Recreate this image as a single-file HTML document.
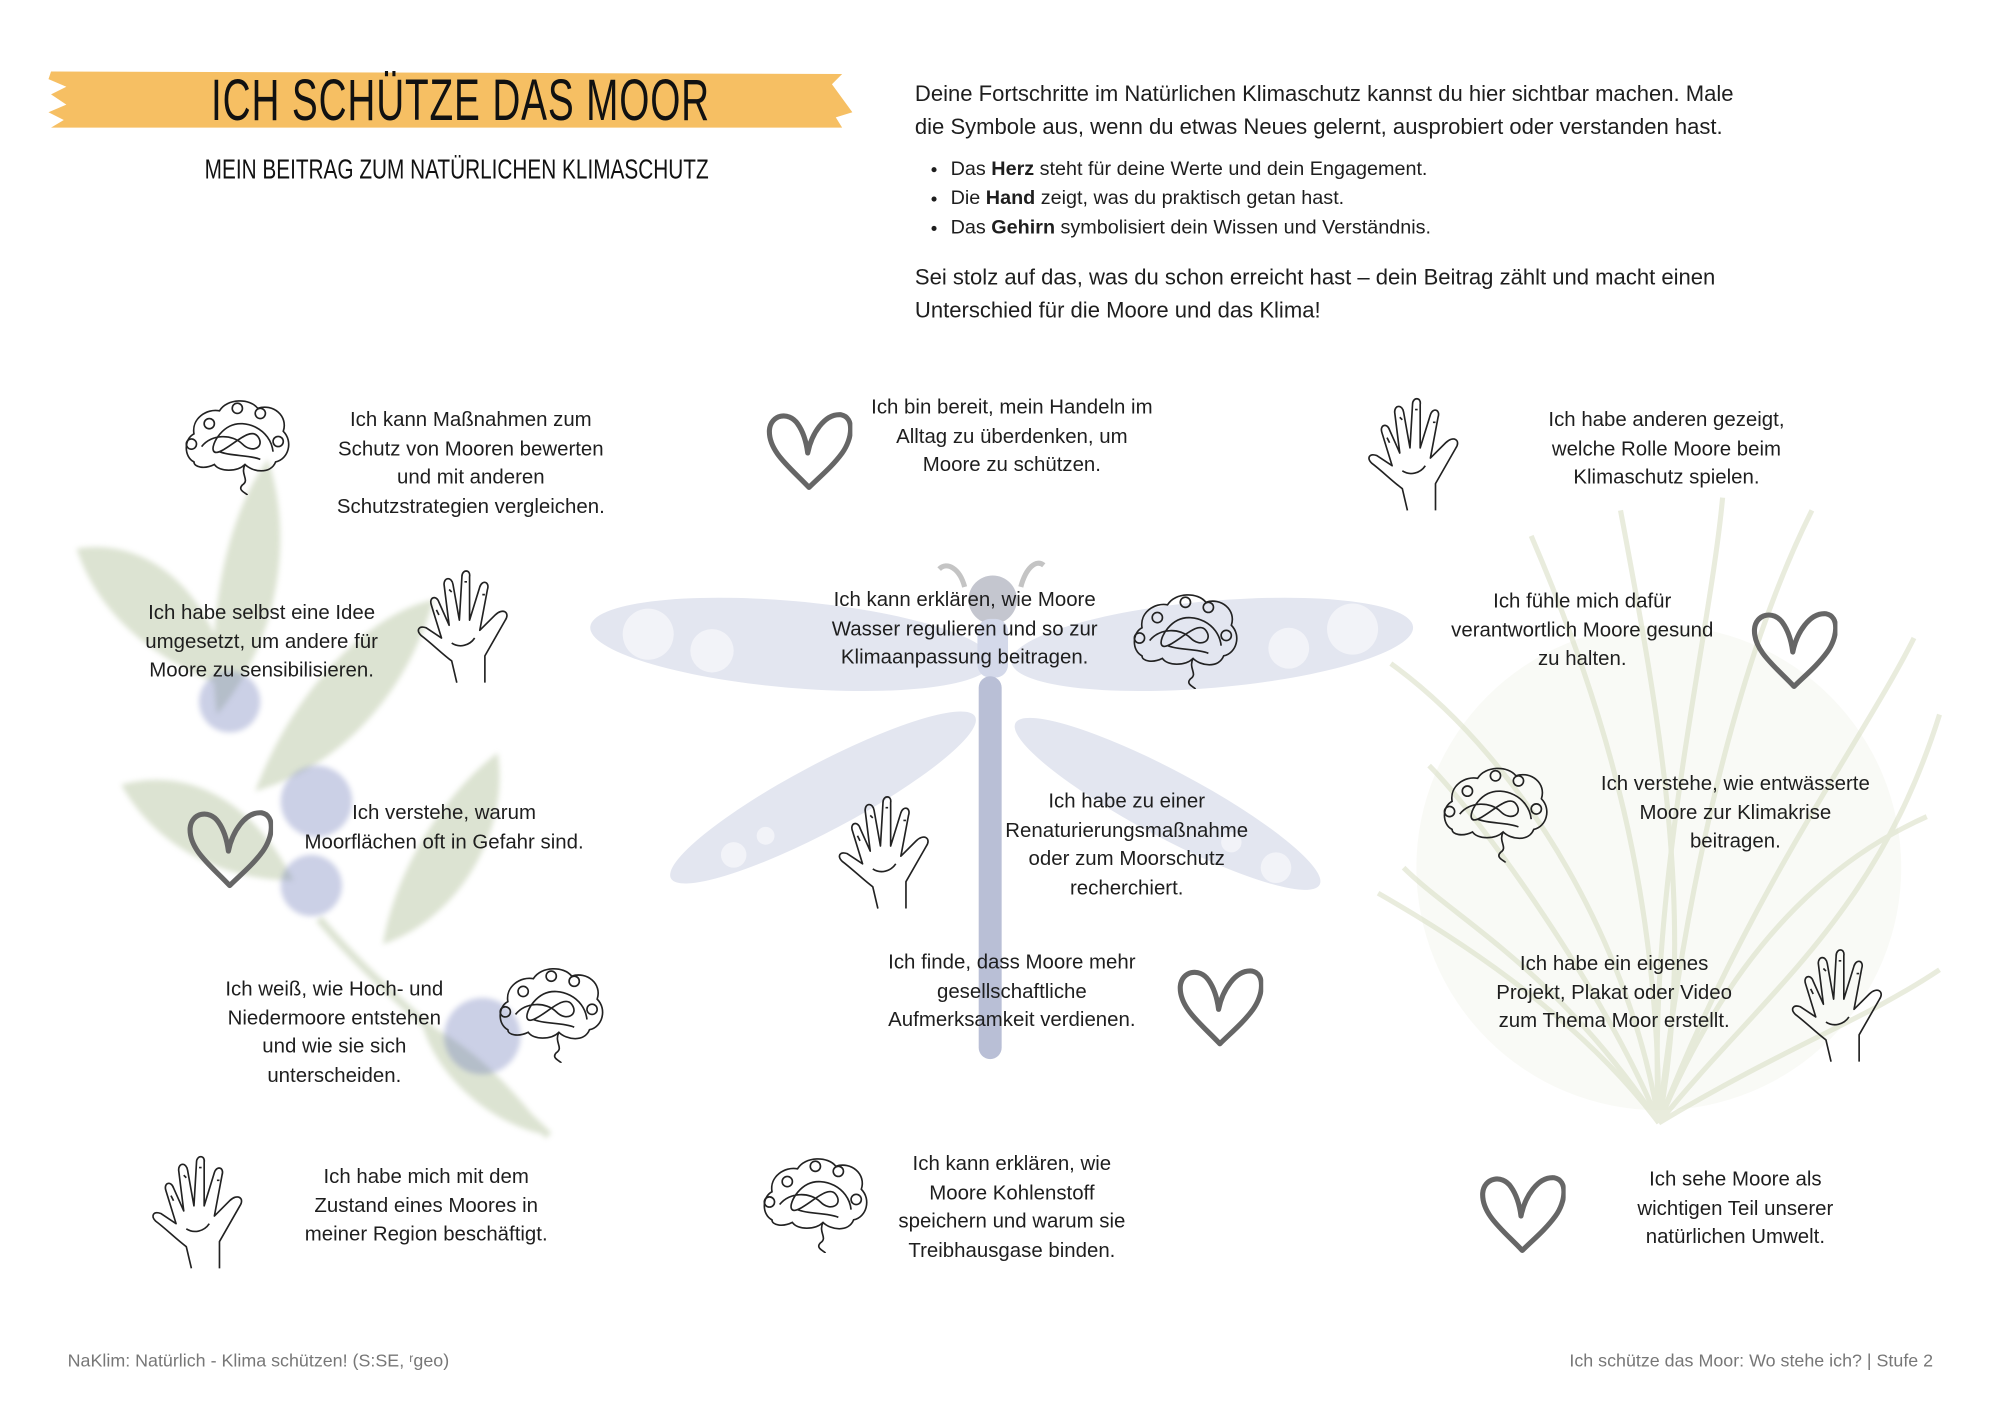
<!DOCTYPE html>
<html><head><meta charset="utf-8">
<style>
html,body{margin:0;padding:0;background:#fff;}
#w{width:2000px;height:1414px;overflow:hidden;position:relative;}
#p{position:absolute;left:0;top:0;width:1567px;height:1108px;transform:scale(1.276);transform-origin:0 0;font-family:"Liberation Sans",sans-serif;color:#222;}
.t{position:absolute;text-align:center;font-size:16px;line-height:22.5px;white-space:nowrap;transform:translateX(-50%);color:#1e1e1e;}
.intro{position:absolute;left:717px;font-size:17.3px;line-height:25.5px;color:#1e1e1e;}
ul{position:absolute;left:727px;top:121px;margin:0;padding-left:18px;font-size:15.5px;line-height:23px;color:#1e1e1e;}
</style></head><body><div id="w"><div id="p">
<svg width="1567" height="1108" style="position:absolute;left:0;top:0">
<defs>
<symbol id="heart" viewBox="0 0 68 63"><path d="M34 60 C20 45 2 32 3 15 C4 3 18 0 25 10 C30 17 32 25 33 33 C36 18 46 2 59 3 C70 5 68 22 60 33 C52 44 42 52 34 60Z" fill="none" stroke="#666" stroke-width="4" stroke-linejoin="round"/></symbol>
<symbol id="brain" viewBox="0 0 87 78"><g fill="none" stroke="#222" stroke-width="1.3"><path d="M10 52 C2 48 2 34 10 30 C8 18 20 10 30 12 C36 2 54 2 60 10 C72 6 84 16 80 28 C88 36 84 50 74 52 C70 62 56 60 50 54 C44 60 30 60 26 54 C18 58 10 56 10 52Z"/><circle cx="22" cy="22" r="4"/><circle cx="44" cy="10" r="4"/><circle cx="62" cy="14" r="4"/><circle cx="76" cy="36" r="4"/><circle cx="8" cy="38" r="4"/><path d="M16 40 C24 30 40 30 48 38 C56 46 66 40 60 32 C54 24 40 40 30 44 C20 48 26 30 38 24 C50 18 70 26 72 44"/><path d="M50 54 C46 62 54 66 48 70 C44 74 50 76 52 78"/><path d="M30 44 C40 48 52 46 62 50"/></g></symbol>
<symbol id="hand" viewBox="0 0 87 98"><g fill="none" stroke="#222" stroke-width="1.3" stroke-linejoin="round"><path d="M40 97 L36 80 C28 74 20 66 12 60 C8 56 10 52 16 54 L28 62 L20 36 C18 30 24 28 26 34 L34 52 L30 20 C30 14 36 14 37 20 L42 48 L44 14 C44 8 51 8 50 14 L50 48 L58 22 C60 16 66 18 64 24 L58 56 L70 44 C76 38 82 42 78 48 L62 76 L62 97"/><path d="M24 40 L26 44 M34 24 L36 26 M46 18 L48 18 M60 28 L62 28"/><path d="M36 66 C42 70 50 68 54 62"/></g></symbol>
<filter id="bl"><feGaussianBlur stdDeviation="2"/></filter>
</defs>
<path d="M40 56 L660 58 L652 66 L668 88 L655 92 L660 100 L40 100 L50 94 L38 88 L52 82 L40 74 L52 68 L38 62Z" fill="#f6bf63"/>
<g opacity="0.4" filter="url(#bl)">
<path d="M60 430 C120 420 170 470 180 540 C130 520 80 490 60 430Z" fill="#a8b98e"/>
<path d="M170 560 C160 480 180 400 210 360 C230 420 220 500 170 560Z" fill="#a8b98e"/>
<path d="M200 620 C230 540 290 480 340 470 C320 540 270 600 200 620Z" fill="#a8b98e"/>
<path d="M95 615 C150 600 200 630 230 690 C170 690 120 660 95 615Z" fill="#a8b98e"/>
<path d="M300 740 C310 680 350 620 390 590 C400 650 360 720 300 740Z" fill="#a8b98e"/>
<path d="M250 720 C300 780 380 840 430 890" stroke="#a8b98e" stroke-width="6" fill="none"/>
<path d="M330 800 C370 820 400 850 430 890 C380 880 340 840 330 800Z" fill="#a8b98e"/>
</g>
<g opacity="0.35" filter="url(#bl)">
<circle cx="180" cy="550" r="24" fill="#6a78b8"/>
<circle cx="248" cy="628" r="28" fill="#6a78b8"/>
<circle cx="244" cy="694" r="24" fill="#6a78b8"/>
<circle cx="378" cy="812" r="30" fill="#6a78b8"/>
</g>
<g opacity="0.3" stroke="#b5bf90" stroke-width="4" fill="none">
<path d="M1300 880 C1280 750 1200 600 1090 520"/><path d="M1300 880 C1300 700 1260 560 1200 420"/><path d="M1300 880 C1320 700 1360 520 1420 400"/><path d="M1300 880 C1350 760 1420 680 1510 640"/><path d="M1300 880 C1240 800 1150 740 1080 700"/><path d="M1300 880 C1330 720 1300 560 1270 400"/><path d="M1300 880 C1380 780 1470 720 1520 560"/><path d="M1300 880 C1260 780 1160 640 1120 600"/><path d="M1300 880 C1370 700 1460 580 1500 500"/><path d="M1300 880 C1290 700 1340 500 1350 390"/><path d="M1300 880 C1220 760 1140 720 1100 680"/><path d="M1300 880 C1400 820 1460 800 1520 760"/>
</g>
<ellipse cx="1300" cy="680" rx="190" ry="190" fill="#d8dcc0" opacity="0.15"/>
<g>
<ellipse cx="620" cy="505" rx="158" ry="34" fill="#e3e6f0" transform="rotate(5 620 505)"/>
<ellipse cx="950" cy="505" rx="158" ry="34" fill="#e3e6f0" transform="rotate(-5 950 505)"/>
<ellipse cx="645" cy="625" rx="135" ry="26" fill="#e3e6f0" transform="rotate(-28 645 625)"/>
<ellipse cx="915" cy="630" rx="135" ry="26" fill="#e3e6f0" transform="rotate(28 915 630)"/>
<circle cx="508" cy="497" r="20" fill="#f2f3f8"/><circle cx="558" cy="510" r="17" fill="#f2f3f8"/>
<circle cx="1060" cy="493" r="20" fill="#f2f3f8"/><circle cx="1010" cy="508" r="16" fill="#f2f3f8"/>
<circle cx="575" cy="670" r="10" fill="#f2f3f8"/><circle cx="600" cy="655" r="7" fill="#f2f3f8"/>
<circle cx="1000" cy="680" r="12" fill="#f2f3f8"/><circle cx="965" cy="660" r="8" fill="#f2f3f8"/>
<path d="M756 460 C752 445 742 440 736 446 M800 460 C804 445 812 438 818 443" stroke="#c4c4c4" stroke-width="4" fill="none"/>
<circle cx="778" cy="470" r="19" fill="#c4c6cf"/>
<rect x="766" y="485" width="24" height="46" rx="10" fill="#d4d9ea"/>
<rect x="767" y="530" width="18" height="300" rx="9" fill="#b9bfd6"/>
</g>
<use href="#brain" x="142" y="310" width="87" height="78"/>
<use href="#heart" x="600" y="322" width="68" height="63"/>
<use href="#hand" x="1063" y="303" width="87" height="98"/>
<use href="#hand" x="318" y="438" width="87" height="98"/>
<use href="#brain" x="885" y="462" width="87" height="78"/>
<use href="#heart" x="1372" y="478" width="68" height="63"/>
<use href="#heart" x="146" y="634" width="68" height="63"/>
<use href="#hand" x="648" y="615" width="87" height="98"/>
<use href="#brain" x="1128" y="598" width="87" height="78"/>
<use href="#brain" x="388" y="755" width="87" height="78"/>
<use href="#heart" x="922" y="758" width="68" height="63"/>
<use href="#hand" x="1395" y="735" width="87" height="98"/>
<use href="#hand" x="110" y="897" width="87" height="98"/>
<use href="#brain" x="595" y="904" width="87" height="78"/>
<use href="#heart" x="1159" y="920" width="68" height="63"/>
</svg>
<div style="position:absolute;left:38px;width:620px;top:52px;text-align:center;font-family:'Liberation Sans Narrow','Liberation Sans',sans-serif;font-size:46px;line-height:52px;color:#111;transform:scaleX(0.66);transform-origin:348px 0;letter-spacing:1px">ICH SCHÜTZE DAS MOOR</div>
<div style="position:absolute;left:38px;width:620px;top:119px;text-align:center;font-family:'Liberation Sans Narrow','Liberation Sans',sans-serif;font-size:22px;line-height:28px;color:#111;transform:scaleX(0.74);transform-origin:348px 0">MEIN BEITRAG ZUM NATÜRLICHEN KLIMASCHUTZ</div>
<div class="intro" style="top:61px">Deine Fortschritte im Natürlichen Klimaschutz kannst du hier sichtbar machen. Male<br>die Symbole aus, wenn du etwas Neues gelernt, ausprobiert oder verstanden hast.</div>
<ul><li>Das <b>Herz</b> steht für deine Werte und dein Engagement.</li><li>Die <b>Hand</b> zeigt, was du praktisch getan hast.</li><li>Das <b>Gehirn</b> symbolisiert dein Wissen und Verständnis.</li></ul>
<div class="intro" style="top:204px;line-height:26px">Sei stolz auf das, was du schon erreicht hast – dein Beitrag zählt und macht einen<br>Unterschied für die Moore und das Klima!</div>
<div class="t" style="left:369px;top:319px">Ich kann Maßnahmen zum<br>Schutz von Mooren bewerten<br>und mit anderen<br>Schutzstrategien vergleichen.</div>
<div class="t" style="left:793px;top:309px">Ich bin bereit, mein Handeln im<br>Alltag zu überdenken, um<br>Moore zu schützen.</div>
<div class="t" style="left:1306px;top:319px">Ich habe anderen gezeigt,<br>welche Rolle Moore beim<br>Klimaschutz spielen.</div>
<div class="t" style="left:205px;top:470px">Ich habe selbst eine Idee<br>umgesetzt, um andere für<br>Moore zu sensibilisieren.</div>
<div class="t" style="left:756px;top:460px">Ich kann erklären, wie Moore<br>Wasser regulieren und so zur<br>Klimaanpassung beitragen.</div>
<div class="t" style="left:1240px;top:461px">Ich fühle mich dafür<br>verantwortlich Moore gesund<br>zu halten.</div>
<div class="t" style="left:348px;top:627px">Ich verstehe, warum<br>Moorflächen oft in Gefahr sind.</div>
<div class="t" style="left:883px;top:618px">Ich habe zu einer<br>Renaturierungsmaßnahme<br>oder zum Moorschutz<br>recherchiert.</div>
<div class="t" style="left:1360px;top:604px">Ich verstehe, wie entwässerte<br>Moore zur Klimakrise<br>beitragen.</div>
<div class="t" style="left:262px;top:765px">Ich weiß, wie Hoch- und<br>Niedermoore entstehen<br>und wie sie sich<br>unterscheiden.</div>
<div class="t" style="left:793px;top:744px">Ich finde, dass Moore mehr<br>gesellschaftliche<br>Aufmerksamkeit verdienen.</div>
<div class="t" style="left:1265px;top:745px">Ich habe ein eigenes<br>Projekt, Plakat oder Video<br>zum Thema Moor erstellt.</div>
<div class="t" style="left:334px;top:912px">Ich habe mich mit dem<br>Zustand eines Moores in<br>meiner Region beschäftigt.</div>
<div class="t" style="left:793px;top:902px">Ich kann erklären, wie<br>Moore Kohlenstoff<br>speichern und warum sie<br>Treibhausgase binden.</div>
<div class="t" style="left:1360px;top:914px">Ich sehe Moore als<br>wichtigen Teil unserer<br>natürlichen Umwelt.</div>
<div style="position:absolute;left:53px;top:1058px;font-size:14px;color:#777">NaKlim: Natürlich - Klima schützen! (S:SE, ʳgeo)</div>
<div style="position:absolute;left:1515px;top:1058px;font-size:14px;color:#777;transform:translateX(-100%);white-space:nowrap">Ich schütze das Moor: Wo stehe ich? | Stufe 2</div>
</div></div></body></html>
